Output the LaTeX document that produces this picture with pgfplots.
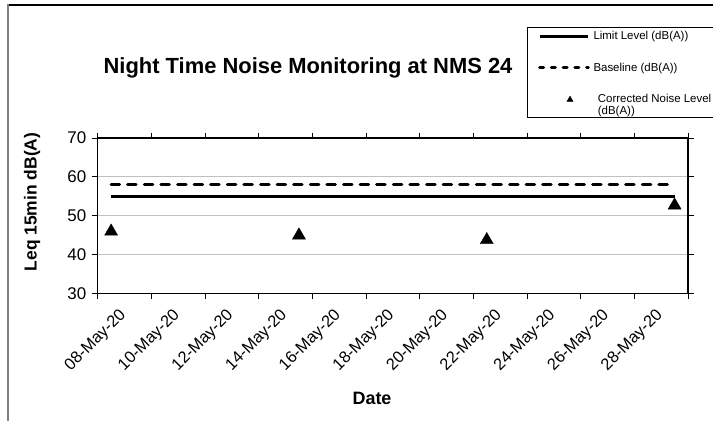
\documentclass[border=0pt]{standalone}
\usepackage{fontspec}
\setmainfont{Liberation Sans}
\usepackage{pgfplots}
\pgfplotsset{compat=1.18}
\definecolor{gridgray}{RGB}{192,192,192}
\pgfplotsset{
  longline legend/.style={legend image code/.code={\draw[##1] (0bp,0bp) -- (48.7bp,0bp);}},
  dashline legend/.style={legend image code/.code={\draw[##1, dash pattern=on 4bp off 7.7bp] (0bp,0bp) -- (48.7bp,0bp);}},
  mark legend/.style={legend image code/.code={%
    \draw[##1, mark size=3.5bp] plot coordinates {(30.3bp,0bp)};}},
}
\begin{document}
\begin{tikzpicture}[x=1bp,y=1bp]
\path[use as bounding box] (0,0) rectangle (713,421);
\draw[black, line width=1.2bp] (8,416) -- (713,416);
\draw[black!50, line width=2bp] (7.5,416.6) -- (7.5,0);
\draw[black, line width=1bp] (527.3,393.7) rectangle (716,303.3);
\begin{axis}[
  at={(97.7bp,127.3bp)}, anchor=south west,
  scale only axis, width=590.3bp, height=155.7bp,
  xmin=8, xmax=30, ymin=30, ymax=70,
  ytick={30,40,...,70},
  xtick={8.5,10.5,...,28.5},
  xticklabels={08-May-20,10-May-20,12-May-20,14-May-20,16-May-20,18-May-20,20-May-20,22-May-20,24-May-20,26-May-20,28-May-20},
  minor xtick={8,10,...,30},
  tick align=outside,
  major tick length=6bp, minor tick length=5bp,
  major x tick style={draw=none},
  tick style={black, line width=1bp},
  ymajorgrids, major grid style={gridgray, line width=1bp},
  axis line style={black, line width=1.5bp},
  /pgf/number format/assume math mode=true,
  yticklabel style={font=\fontsize{17}{20}\selectfont, xshift=-2bp},
  xticklabel style={font=\fontsize{16.5}{19}\selectfont, rotate=45, anchor=east, yshift=-18bp, xshift=3bp},
  title={Night Time Noise Monitoring at NMS 24},
  title style={at={(axis description cs:0.3563,1.410)}, anchor=center, font=\bfseries\fontsize{22}{26}\selectfont},
  xlabel={Date},
  xlabel style={at={(axis description cs:0.4647,-0.670)}, anchor=center, font=\bfseries\fontsize{18}{21}\selectfont},
  ylabel={Leq 15min dB(A)},
  ylabel style={at={(axis description cs:-0.1113,0.589)}, anchor=center, font=\bfseries\fontsize{17.5}{21}\selectfont},
  legend style={at={(axis description cs:0.7459,1.698)}, anchor=north west, draw=none, fill=none,
    inner sep=0pt, font=\fontsize{11.5}{11.5}\selectfont,
    cells={inner xsep=0pt, inner ysep=2bp}, row sep=17.8bp, column sep=1.6bp},
  legend cell align=left,
]
\addplot[black, line width=2.5bp, longline legend]
  coordinates {(8.5,55) (15.5,55) (22.5,55) (29.5,55)};
\addlegendentry{Limit Level (dB(A))}
\addplot[black, line width=3bp, line cap=round, dash pattern=on 8.5bp off 8.1bp, dashline legend]
  coordinates {(8.5,58) (15.5,58) (22.5,58) (29.5,58)};
\addlegendentry{Baseline (dB(A))}
\addplot[black, only marks, mark=triangle*, mark size=7.5bp, mark legend]
  coordinates {(8.5,46) (15.5,45) (22.5,43.8) (29.5,52.7)};
\addlegendentry{\raisebox{0pt}[\height][0pt]{\begin{tabular}[t]{@{\hspace{4.4bp}}l@{}}Corrected Noise Level\\(dB(A))\end{tabular}}}
\end{axis}
\end{tikzpicture}
\end{document}
